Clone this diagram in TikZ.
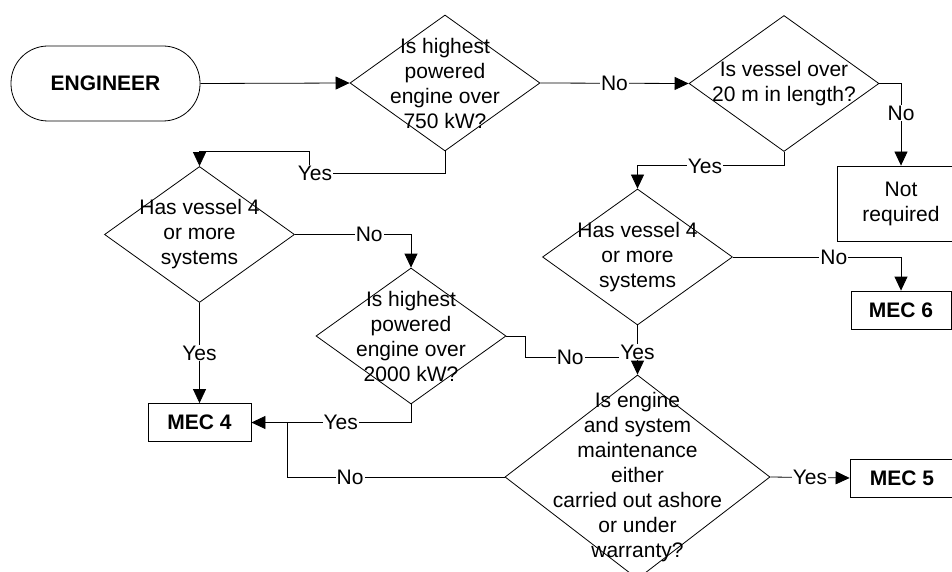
\documentclass[tikz,border=0pt]{standalone}
\usepackage{fontspec}
\setmainfont{Liberation Sans}
\usetikzlibrary{arrows.meta, shapes.geometric}

\begin{document}
\begin{tikzpicture}[x=1pt, y=-1pt, line width=0.8pt,
    every node/.style={font=\fontsize{21}{25}\selectfont, align=center},
    decision/.style={draw, diamond, inner sep=0pt, minimum width=190pt, minimum height=136pt},
    terminal/.style={draw, rectangle, rounded corners=37pt, minimum width=189pt, minimum height=75pt},
    outcome/.style={draw, rectangle, minimum width=103pt, minimum height=38pt},
    lbl/.style={fill=white, inner sep=1pt},
    arr/.style={-{Triangle[length=14pt, width=13pt]}}]
        \useasboundingbox (0,0) rectangle (952,572);
        \clip (0,0) rectangle (952,572);
        % shapes
        \node[terminal] (eng) at (105.5,83.5) {\textbf{ENGINEER}};
        \node[decision] (d1) at (445,83) {};
        \node (d1t) at (d1) {Is highest\\powered\\engine over\\750 kW?};
        \node[decision] (d2) at (784,83.5) {};
        \node (d2t) at (d2) {Is vessel over\\20 m in length?};
        \node[outcome, minimum width=128pt, minimum height=75pt] (nr) at (901,203.5) {Not\\required};
        \node[decision] (d3) at (637.5,257) {};
        \node (d3t) at (d3) {Has vessel 4\\or more\\systems};
        \node[outcome, minimum width=100pt] (m6) at (901,310) {\textbf{MEC 6}};
        \node[decision] (d6) at (199.5,234.5) {};
        \node (d6t) at (d6) {Has vessel 4\\or more\\systems};
        \node[decision] (d4) at (411,336) {};
        \node (d4t) at (d4) {Is highest\\powered\\engine over\\2000 kW?};
        \node[outcome] (m4) at (199.5,422.5) {\textbf{MEC 4}};
        \node[decision, minimum width=265pt, minimum height=204pt] (d5) at (637.5,477) {};
        \node (d5t) at (d5) {Is engine\\and system\\maintenance\\either\\carried out ashore\\or under\\warranty?};
        \node[outcome, minimum width=104pt] (m5) at (902,478) {\textbf{MEC 5}};
        \coordinate (j4) at (287,422.5);
        \coordinate (j5) at (637.5,357);
        % connectors
        \draw[arr] (eng.east) -- (d1.west);
        \draw[arr] (d1.east) -- node[lbl]{No} (d2.west);
        \draw[arr] (d2.east) -| node[lbl, pos=0.68]{No} (nr.north);
        \draw[arr] (d2.south) -- ++(0,14) -| node[lbl, pos=0.27]{Yes} (d3.north);
        \draw[arr] (d3.east) -| node[lbl, pos=0.3]{No} (m6.north);
        \draw[arr] (d1.south) -- ++(0,22) -- ++(-136,0) node[lbl, xshift=6pt]{Yes} -- ++(0,-22) -| (d6.north);
        \draw[arr] (d6.east) -| node[lbl, pos=0.32]{No} (d4.north);
        \draw[arr] (d6.south) -- node[lbl]{Yes} (m4.north);
        \draw[arr] (d4.south) |- node[lbl, pos=0.72]{Yes} (m4.east);
        \draw (d5.west) -| node[lbl, pos=0.355]{No} (j4);
        \draw (d4.east) -- ++(19,0) |- node[lbl, pos=0.7]{No} (j5);
        \draw[arr] (d3.south) -- node[lbl, pos=0.54]{Yes} (d5.north);
        \draw[arr] (d5.east) -- node[lbl]{Yes} (m5.west);
\end{tikzpicture}
\end{document}
